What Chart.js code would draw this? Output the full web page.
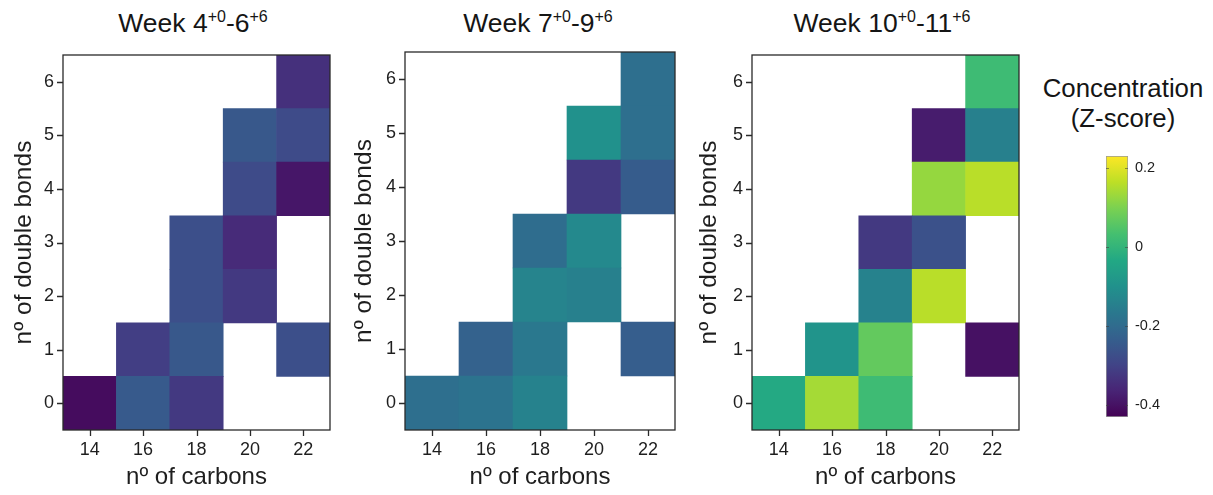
<!DOCTYPE html>
<html><head><meta charset="utf-8">
<script src="https://cdn.jsdelivr.net/npm/chart.js@4.4.1/dist/chart.umd.min.js"></script>
<style>
body{margin:0;width:1213px;height:495px;background:#fff;position:relative;overflow:hidden;font-family:"Liberation Sans",Arial,sans-serif;color:#151515}
canvas{position:absolute;top:0}
.ttl{position:absolute;top:8px;font-size:26.5px;line-height:30px;text-align:center;white-space:nowrap;transform:translateX(-50%)}
.ttl sup{font-size:16px;vertical-align:0;position:relative;top:-10px}
.cbt{position:absolute;top:73px;left:1123px;transform:translateX(-50%);font-size:25.8px;line-height:30px;text-align:center;white-space:nowrap}
</style></head><body>
<div class="ttl" style="left:193px">Week 4<sup>+0</sup>-6<sup>+6</sup></div>
<div class="ttl" style="left:538px">Week 7<sup>+0</sup>-9<sup>+6</sup></div>
<div class="ttl" style="left:882px">Week 10<sup>+0</sup>-11<sup>+6</sup></div>
<div class="cbt">Concentration<br>(Z-score)</div>
<canvas id="c1" width="345" height="495" style="left:0px"></canvas>
<canvas id="c2" width="345" height="495" style="left:345px"></canvas>
<canvas id="c3" width="340" height="495" style="left:690px"></canvas>
<canvas id="cb" width="183" height="495" style="left:1030px"></canvas>
<script>
// ---- data ----
const carbons = ['14', '16', '18', '20', '22'];
const bonds = [0, 1, 2, 3, 4, 5, 6];
const colorbarTicks = [-0.4, -0.2, 0, 0.2];
const zMin = -0.43, zMax = 0.23;
// Z-scores: rows = nº of double bonds (0..6), columns = nº of carbons; null = no value
const week4to6 = [
  [-0.41, -0.245, -0.32, null, null],
  [null, -0.31, -0.25, null, -0.27],
  [null, null, -0.27, -0.32, null],
  [null, null, -0.27, -0.35, null],
  [null, null, null, -0.28, -0.39],
  [null, null, null, -0.25, -0.28],
  [null, null, null, null, -0.34]
];
const week7to9 = [
  [-0.19, -0.18, -0.14, null, null],
  [null, -0.225, -0.165, null, -0.235],
  [null, null, -0.135, -0.145, null],
  [null, null, -0.195, -0.12, null],
  [null, null, null, -0.32, -0.24],
  [null, null, null, -0.10, -0.19],
  [null, null, null, null, -0.19]
];
const week10to11 = [
  [-0.03, 0.14, 0.02, null, null],
  [null, -0.09, 0.07, null, -0.40],
  [null, null, -0.14, 0.16, null],
  [null, null, -0.32, -0.265, null],
  [null, null, null, 0.125, 0.16],
  [null, null, null, -0.38, -0.145],
  [null, null, null, null, 0.02]
];

// ---- viridis colormap ----
const VIR = [[68,1,84],[72,36,117],[65,68,135],[53,95,141],[42,120,142],[33,145,140],[34,168,132],[68,191,112],[122,209,81],[189,223,38],[253,231,37]];
function viridis(t){
  t = Math.max(0, Math.min(1, t));
  const p = t * (VIR.length - 1), i = Math.min(VIR.length - 2, Math.floor(p)), f = p - i;
  const c = VIR[i].map((a, k) => Math.round(a + (VIR[i+1][k] - a) * f));
  return `rgb(${c[0]},${c[1]},${c[2]})`;
}
const zColor = v => viridis((v - zMin) / (zMax - zMin));

const FONT = '"Liberation Sans", Arial, sans-serif';
const INK = '#1e1e1e';

// frame around plot area plus outward tick marks
const frame = {
  id: 'frame',
  afterDraw(chart){
    const {ctx, chartArea: a, scales} = chart;
    ctx.save();
    ctx.strokeStyle = '#2a2a2a'; ctx.lineWidth = 1.3;
    ctx.strokeRect(a.left, a.top, a.right - a.left, a.bottom - a.top);
    ctx.beginPath();
    scales.x.ticks.forEach((t, i) => {
      const px = Math.round(scales.x.getPixelForTick(i)) + 0.5;
      ctx.moveTo(px, a.bottom); ctx.lineTo(px, a.bottom + 6);
    });
    scales.y.ticks.forEach((t, i) => {
      const py = Math.round(scales.y.getPixelForTick(i)) + 0.5;
      ctx.moveTo(a.left - 6, py); ctx.lineTo(a.left, py);
    });
    ctx.stroke();
    ctx.restore();
  }
};

function panel(id, matrix, pad, yWidth){
  const datasets = bonds.map((b, r) => ({
    data: matrix[r].map(v => v === null ? null : [b - 0.5, b + 0.5]),
    backgroundColor: matrix[r].map(v => v === null ? 'rgba(0,0,0,0)' : zColor(v)),
    borderWidth: 0,
    barPercentage: 1, categoryPercentage: 1, grouped: false
  }));
  new Chart(document.getElementById(id), {
    type: 'bar',
    data: {labels: carbons, datasets},
    options: {
      responsive: false, animation: false, devicePixelRatio: 1,
      layout: {padding: pad},
      plugins: {legend: {display: false}, tooltip: {enabled: false}},
      scales: {
        x: {
          grid: {display: false, drawTicks: true, tickLength: 6, offset: false},
          border: {display: false},
          ticks: {color: INK, font: {family: FONT, size: 18}, padding: 3},
          title: {display: true, text: 'nº of carbons', color: INK, font: {family: FONT, size: 24}, padding: {top: 0, bottom: 3}},
          afterFit: s => { s.height = 65; }
        },
        y: {
          min: -0.5, max: 6.5,
          afterBuildTicks: s => { s.ticks = bonds.map(v => ({value: v})); },
          grid: {display: false, drawTicks: true, tickLength: 6},
          border: {display: false},
          ticks: {color: INK, font: {family: FONT, size: 18}, padding: 3},
          title: {display: true, text: 'nº of double bonds', color: INK, font: {family: FONT, size: 24.5}, padding: {top: 0, bottom: 0}},
          afterFit: s => { s.width = yWidth; }
        }
      }
    },
    plugins: [frame]
  });
}

panel('c1', week4to6, {left: 10, right: 15, top: 55, bottom: 0}, 53);
panel('c2', week7to9, {left: 5, right: 15, top: 52, bottom: 0}, 55);
panel('c3', week10to11, {left: 5, right: 11, top: 55, bottom: 0}, 57);

// ---- colour bar ----
const cbMarks = {
  id: 'cbMarks',
  afterDraw(chart){
    const {ctx, chartArea: a, scales} = chart;
    ctx.save();
    ctx.strokeStyle = 'rgba(60,60,60,0.55)'; ctx.lineWidth = 1;
    ctx.beginPath();
    scales.y.ticks.forEach((t, i) => {
      const py = Math.round(scales.y.getPixelForTick(i)) + 0.5;
      ctx.moveTo(a.left, py); ctx.lineTo(a.left + 3, py);
      ctx.moveTo(a.right - 3, py); ctx.lineTo(a.right, py);
    });
    ctx.stroke();
    ctx.restore();
  }
};
new Chart(document.getElementById('cb'), {
  type: 'bar',
  data: {labels: [''], datasets: [{
    data: [[zMin, zMax]],
    backgroundColor: ctx => {
      const ch = ctx.chart, y = ch.scales.y;
      if (!ch.chartArea || !y) return '#2a788e';
      const g = ch.ctx.createLinearGradient(0, y.getPixelForValue(zMin), 0, y.getPixelForValue(zMax));
      for (let i = 0; i <= 20; i++) g.addColorStop(i / 20, viridis(i / 20));
      return g;
    },
    borderColor: '#9a9a9a', borderWidth: 1, borderSkipped: false,
    barPercentage: 1, categoryPercentage: 1
  }]},
  options: {
    responsive: false, animation: false, devicePixelRatio: 1,
    layout: {padding: {left: 76, right: 45, top: 156, bottom: 78}},
    plugins: {legend: {display: false}, tooltip: {enabled: false}},
    scales: {
      x: {display: false},
      y: {
        position: 'right', min: zMin, max: zMax,
        afterBuildTicks: s => { s.ticks = colorbarTicks.map(v => ({value: v})); },
        grid: {display: false, drawTicks: false, tickLength: 0},
        border: {display: false},
        ticks: {color: INK, font: {family: FONT, size: 14.5}, padding: 7, callback: v => String(v)},
        afterFit: s => { s.width = 40; }
      }
    }
  },
  plugins: [cbMarks]
});
</script>
</body></html>
